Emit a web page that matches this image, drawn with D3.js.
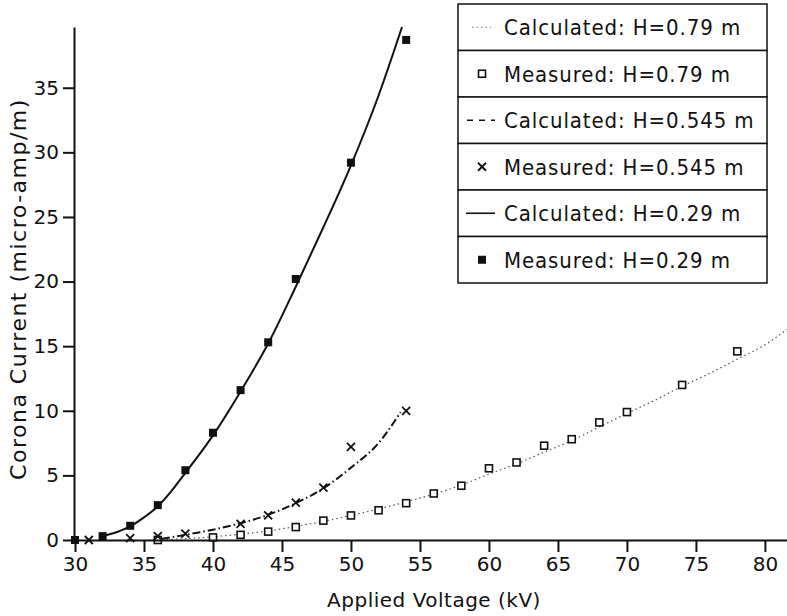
<!DOCTYPE html>
<html>
<head>
<meta charset="utf-8">
<script src="https://cdn.jsdelivr.net/npm/d3@7"></script>
<style>
    body { margin: 0; background: #fff; }
    text { font-family: "DejaVu Sans", sans-serif; fill: #111; }
    .legend-text { font-family: "DejaVu Sans Condensed", "DejaVu Sans", sans-serif; font-stretch: condensed; }
</style>
</head>
<body>
<div id="chart"></div>
<script>
// Measured / calculated corona current
const measured029X = [30, 32, 34, 36, 38, 40, 42, 44, 46, 50, 54];
const measured029Y = [0, 0.3, 1.1, 2.7, 5.4, 8.3, 11.6, 15.3, 20.2, 29.2, 38.7];
const calc029X = [31.8, 33, 34, 35, 36, 37, 38, 39, 40, 42, 44, 46, 48, 50, 52, 53.7];
const calc029Y = [0.25, 0.6, 1.05, 1.75, 2.6, 3.8, 5.2, 6.6, 8.1, 11.5, 15.2, 19.6, 24.2, 29.0, 34.4, 39.7];

const measured0545X = [31, 34, 36, 38, 42, 44, 46, 48, 50, 54];
const measured0545Y = [0, 0.15, 0.3, 0.5, 1.25, 1.9, 2.9, 4.05, 7.2, 10.0];
const calc0545X = [36.3, 38, 40, 42, 44, 46, 48, 50, 52, 53.6];
const calc0545Y = [0.1, 0.4, 0.8, 1.3, 1.95, 2.85, 4.0, 5.6, 7.5, 9.9];

const measured079X = [36, 40, 42, 44, 46, 48, 50, 52, 54, 56, 58, 60, 62, 64, 66, 68, 70, 74, 78];
const measured079Y = [0, 0.2, 0.4, 0.65, 1.0, 1.5, 1.9, 2.3, 2.85, 3.6, 4.2, 5.55, 6.0, 7.3, 7.8, 9.1, 9.9, 12.0, 14.6];
const calc079X = [36, 38, 40, 42, 44, 46, 48, 50, 52, 54, 56, 58, 60, 62, 64, 66, 68, 70, 72, 74, 76, 78, 80, 81.6];
const calc079Y = [0, 0.1, 0.25, 0.45, 0.7, 1.05, 1.45, 1.9, 2.4, 2.95, 3.55, 4.25, 5.1, 5.9, 6.8, 7.7, 8.75, 9.8, 10.8, 11.9, 12.9, 14.0, 15.1, 16.3];

const xTicks = [30, 35, 40, 45, 50, 55, 60, 65, 70, 75, 80];
const yTicks = [0, 5, 10, 15, 20, 25, 30, 35];
const legendLabels = [
    "Calculated: H=0.79 m",
    "Measured: H=0.79 m",
    "Calculated: H=0.545 m",
    "Measured: H=0.545 m",
    "Calculated: H=0.29 m",
    "Measured: H=0.29 m"
];
const legendKinds = ["dotted", "openSquare", "dashed", "cross", "solid", "filledSquare"];

const W = 787, H = 616;
const plotLeft = 74, plotRight = 787, plotTop = 27, plotBottom = 540;

const svg = d3.select("#chart")
    .append("svg")
    .attr("width", W)
    .attr("height", H);

const x = d3.scaleLinear().domain([30, 81.6]).range([plotLeft + 1, plotRight]);
const y = d3.scaleLinear().domain([0, 39.7]).range([plotBottom, plotTop]);

const zip = (xs, ys) => xs.map((v, i) => [v, ys[i]]);
const line = d3.line()
    .x(d => x(d[0]))
    .y(d => y(d[1]))
    .curve(d3.curveMonotoneX);

// Curves
svg.append("path")
    .datum(zip(calc079X, calc079Y))
    .attr("fill", "none")
    .attr("stroke", "#555")
    .attr("stroke-width", 1.2)
    .attr("stroke-dasharray", "1.5,3")
    .attr("d", line);

svg.append("path")
    .datum(zip(calc0545X, calc0545Y))
    .attr("fill", "none")
    .attr("stroke", "#111")
    .attr("stroke-width", 2)
    .attr("stroke-dasharray", "8,3,1.5,3")
    .attr("d", line);

svg.append("path")
    .datum(zip(calc029X, calc029Y))
    .attr("fill", "none")
    .attr("stroke", "#111")
    .attr("stroke-width", 2)
    .attr("d", line);

// Marker helpers
function openSquare(g, cx, cy) {
    g.append("rect")
        .attr("x", cx - 3.5).attr("y", cy - 3.5)
        .attr("width", 7).attr("height", 7)
        .attr("fill", "#fff")
        .attr("stroke", "#111")
        .attr("stroke-width", 1.6);
}
function filledSquare(g, cx, cy) {
    g.append("rect")
        .attr("x", cx - 4).attr("y", cy - 4)
        .attr("width", 8).attr("height", 8)
        .attr("fill", "#111");
}
function cross(g, cx, cy) {
    g.append("path")
        .attr("d", `M${cx - 4},${cy - 4}L${cx + 4},${cy + 4}M${cx - 4},${cy + 4}L${cx + 4},${cy - 4}`)
        .attr("stroke", "#111")
        .attr("stroke-width", 1.8);
}

const marks = svg.append("g");
zip(measured079X, measured079Y).forEach(d => openSquare(marks, x(d[0]), y(d[1])));
zip(measured0545X, measured0545Y).forEach(d => cross(marks, x(d[0]), y(d[1])));
zip(measured029X, measured029Y).forEach(d => filledSquare(marks, x(d[0]), y(d[1])));

// Axes
const xAxis = svg.append("g")
    .attr("transform", `translate(0,${plotBottom})`)
    .call(d3.axisBottom(x).tickValues(xTicks).tickSize(12).tickSizeOuter(0).tickPadding(5));
const yAxis = svg.append("g")
    .attr("transform", `translate(${plotLeft},0)`)
    .call(d3.axisLeft(y).tickValues(yTicks).tickSize(11).tickSizeOuter(0).tickPadding(4));

[xAxis, yAxis].forEach(a => {
    a.select(".domain").attr("stroke", "#111").attr("stroke-width", 2);
    a.selectAll(".tick line").attr("stroke", "#111").attr("stroke-width", 2);
    a.selectAll(".tick text").style("font-size", "20px").attr("fill", "#111");
});

// Axis titles
svg.append("text")
    .attr("text-anchor", "middle")
    .attr("x", 434)
    .attr("y", 607)
    .style("font-size", "20px")
    .style("letter-spacing", "0.5px")
    .text("Applied Voltage (kV)");

svg.append("text")
    .attr("text-anchor", "middle")
    .attr("transform", "rotate(-90)")
    .attr("x", -289)
    .attr("y", 26)
    .style("font-size", "22px")
    .style("letter-spacing", "1.5px")
    .text("Corona Current (micro-amp/m)");

// Legend
const lgX = 458, lgW = 309, lgTop = 4, rowH = 46.5;
const legend = svg.append("g");

legendLabels.forEach((label, i) => {
    const ry = lgTop + i * rowH;
    const cy = ry + rowH / 2;
    legend.append("rect")
        .attr("x", lgX).attr("y", ry)
        .attr("width", lgW).attr("height", rowH)
        .attr("fill", "#fff")
        .attr("stroke", "#111")
        .attr("stroke-width", 1.5);

    const kind = legendKinds[i];
    if (kind === "dotted") {
        legend.append("line")
            .attr("x1", 472).attr("x2", 491).attr("y1", cy).attr("y2", cy)
            .attr("stroke", "#777").attr("stroke-width", 1.2)
            .attr("stroke-dasharray", "1.5,3");
    } else if (kind === "dashed") {
        legend.append("line")
            .attr("x1", 467).attr("x2", 495).attr("y1", cy).attr("y2", cy)
            .attr("stroke", "#111").attr("stroke-width", 1.6)
            .attr("stroke-dasharray", "6,6");
    } else if (kind === "solid") {
        legend.append("line")
            .attr("x1", 466).attr("x2", 495).attr("y1", cy).attr("y2", cy)
            .attr("stroke", "#111").attr("stroke-width", 1.6);
    } else if (kind === "openSquare") {
        openSquare(legend, 482, cy);
    } else if (kind === "cross") {
        cross(legend, 482, cy);
    } else {
        filledSquare(legend, 482, cy);
    }

    legend.append("text")
        .attr("class", "legend-text")
        .attr("x", 504)
        .attr("y", cy)
        .attr("dy", "0.36em")
        .style("font-size", "22px")
        .style("letter-spacing", "0.9px")
        .text(label);
});
</script>
</body>
</html>
